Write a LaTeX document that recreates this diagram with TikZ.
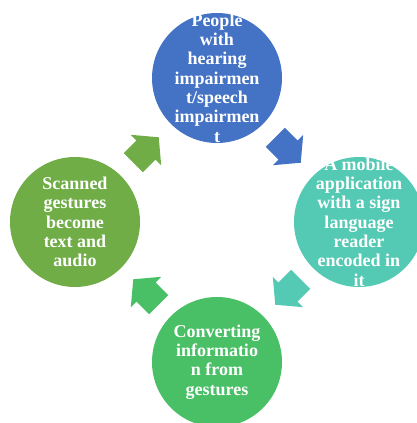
\documentclass[tikz,border=0pt]{standalone}
\usepackage{fontspec}
\setmainfont{Liberation Serif}
\usetikzlibrary{calc}

\definecolor{topblue}{HTML}{4472C4}
\definecolor{rightteal}{HTML}{54CAB5}
\definecolor{bottomgreen}{HTML}{49BF66}
\definecolor{leftolive}{HTML}{70AD47}

\tikzset{
  bubble/.style={circle, minimum size=130pt, inner sep=0pt, fill=#1},
  words/.style={text=white, font=\bfseries\fontsize{18}{19.3}\selectfont, align=center, inner sep=0pt},
  pics/cyclearrow/.style={code={
    \fill[#1] (-18,-13.5) -- (0,-13.5) -- (0,-21.5) -- (18,0) -- (0,21.5) -- (0,13.5) -- (-18,13.5) -- cycle;
  }}
}

\begin{document}
\begin{tikzpicture}[x=1pt,y=-1pt]
  \useasboundingbox (0,0) rectangle (417,423);
  % circles
  \node[bubble=topblue] (top) at (217,78) {};
  \node[bubble=rightteal] (right) at (359,222) {};
  \node[bubble=bottomgreen] (bottom) at (217,362) {};
  \node[bubble=leftolive] (left) at (75,222) {};
  % texts
  \node[words] (toptext) at (top) {People\\with\\hearing\\impairmen\\t/speech\\impairmen\\t};
  \node[words] (righttext) at (right) {A mobile\\application\\with a sign\\language\\reader\\encoded in\\it};
  \node[words] (bottomtext) at (bottom) {Converting\\informatio\\n from\\gestures};
  \node[words] (lefttext) at (left) {Scanned\\gestures\\become\\text and\\audio};
  % arrows between the circles
  \pic[rotate=-45] (toparrow) at ($(top)!0.5!(right)$) {cyclearrow=topblue};
  \pic[rotate=-135] (rightarrow) at ($(right)!0.5!(bottom)$) {cyclearrow=rightteal};
  \pic[rotate=135] (bottomarrow) at ($(bottom)!0.5!(left)$) {cyclearrow=bottomgreen};
  \pic[rotate=45] (leftarrow) at ($(left)!0.5!(top)$) {cyclearrow=leftolive};
\end{tikzpicture}
\end{document}
